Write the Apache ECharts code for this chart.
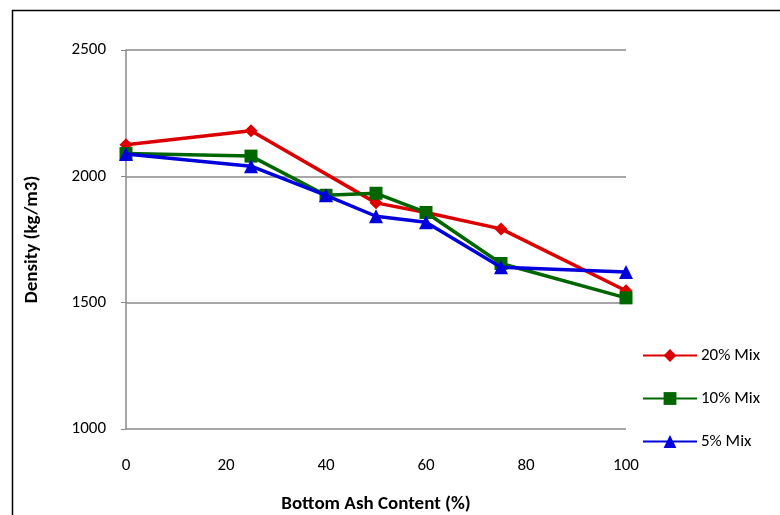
<!DOCTYPE html>
<html><head><meta charset="utf-8">
<script src="https://cdn.jsdelivr.net/npm/echarts@6/dist/echarts.min.js"></script>
<style>html,body{margin:0;padding:0;background:#fff}#c{width:780px;height:515px}</style>
</head><body><div id="c"></div>
<script>
const xValues = [0, 25, 40, 50, 60, 75, 100];
const mix20X = [0, 25, 50, 60, 75, 100];
const mix20 = [2125, 2180, 1895, 1857, 1792, 1547];
const mix10 = [2090, 2080, 1925, 1933, 1857, 1655, 1519];
const mix5 = [2088, 2040, 1925, 1842, 1818, 1640, 1621];
const yTicks = [1000, 1500, 2000, 2500];
const xTicks = [0, 20, 40, 60, 80, 100];

const font = 'Carlito, Lato, "Open Sans", sans-serif';
const chart = echarts.init(document.getElementById('c'));
const pair = (xs, ys) => xs.map((x, i) => [x, ys[i]]);
chart.setOption({
  animation: false,
  graphic: [{type:'rect', shape:{x:12.5, y:10.5, width:800, height:600}, style:{fill:'none', stroke:'#000', lineWidth:1.5}}],
  grid: {left:126, right:154, top:50, bottom:86, containLabel:false, outerBoundsMode:'none'},
  legend: {
    orient:'vertical', left:642, top:347, padding:0, itemGap:26, itemWidth:54, itemHeight:16,
    textStyle:{fontFamily:font, fontSize:17, color:'#000', padding:[0,0,0,-1]},
    data:['20% Mix','10% Mix','5% Mix']
  },
  xAxis: {
    type:'value', min:0, max:100, interval:20,
    name:'Bottom Ash Content (%)', nameLocation:'middle', nameGap:66,
    nameTextStyle:{fontFamily:font, fontSize:19, fontWeight:'bold', color:'#000'},
    axisLine:{show:false}, axisTick:{show:false}, splitLine:{show:false},
    axisLabel:{fontFamily:font, fontSize:17, color:'#000', margin:28,
      formatter: v => xTicks.includes(v) ? String(v) : ''}
  },
  yAxis: {
    type:'value', min:1000, max:2500, interval:500,
    name:'Density (kg/m3)', nameLocation:'middle', nameGap:84, nameRotate:90,
    nameTextStyle:{fontFamily:font, fontSize:19, fontWeight:'bold', color:'#000'},
    axisLine:{show:true, lineStyle:{color:'#888', width:1.5}},
    axisTick:{show:true, inside:false, length:5, lineStyle:{color:'#888'}},
    splitLine:{show:true, lineStyle:{color:'#888', width:1.5}},
    axisLabel:{fontFamily:font, fontSize:17, color:'#000', margin:20,
      formatter: v => yTicks.includes(v) ? String(v) : ''}
  },
  series: [
    {name:'20% Mix', type:'line', data:pair(mix20X, mix20), symbol:'diamond', symbolSize:13,
     itemStyle:{color:'#dd0000'}, lineStyle:{color:'#dd0000', width:3.5}, z:3},
    {name:'10% Mix', type:'line', data:pair(xValues, mix10), symbol:'rect', symbolSize:13,
     itemStyle:{color:'#006600'}, lineStyle:{color:'#006600', width:3.5}, z:4},
    {name:'5% Mix', type:'line', data:pair(xValues, mix5), symbol:'triangle', symbolSize:14,
     itemStyle:{color:'#0000dd'}, lineStyle:{color:'#0000dd', width:3.5}, z:5}
  ]
});
</script></body></html>
